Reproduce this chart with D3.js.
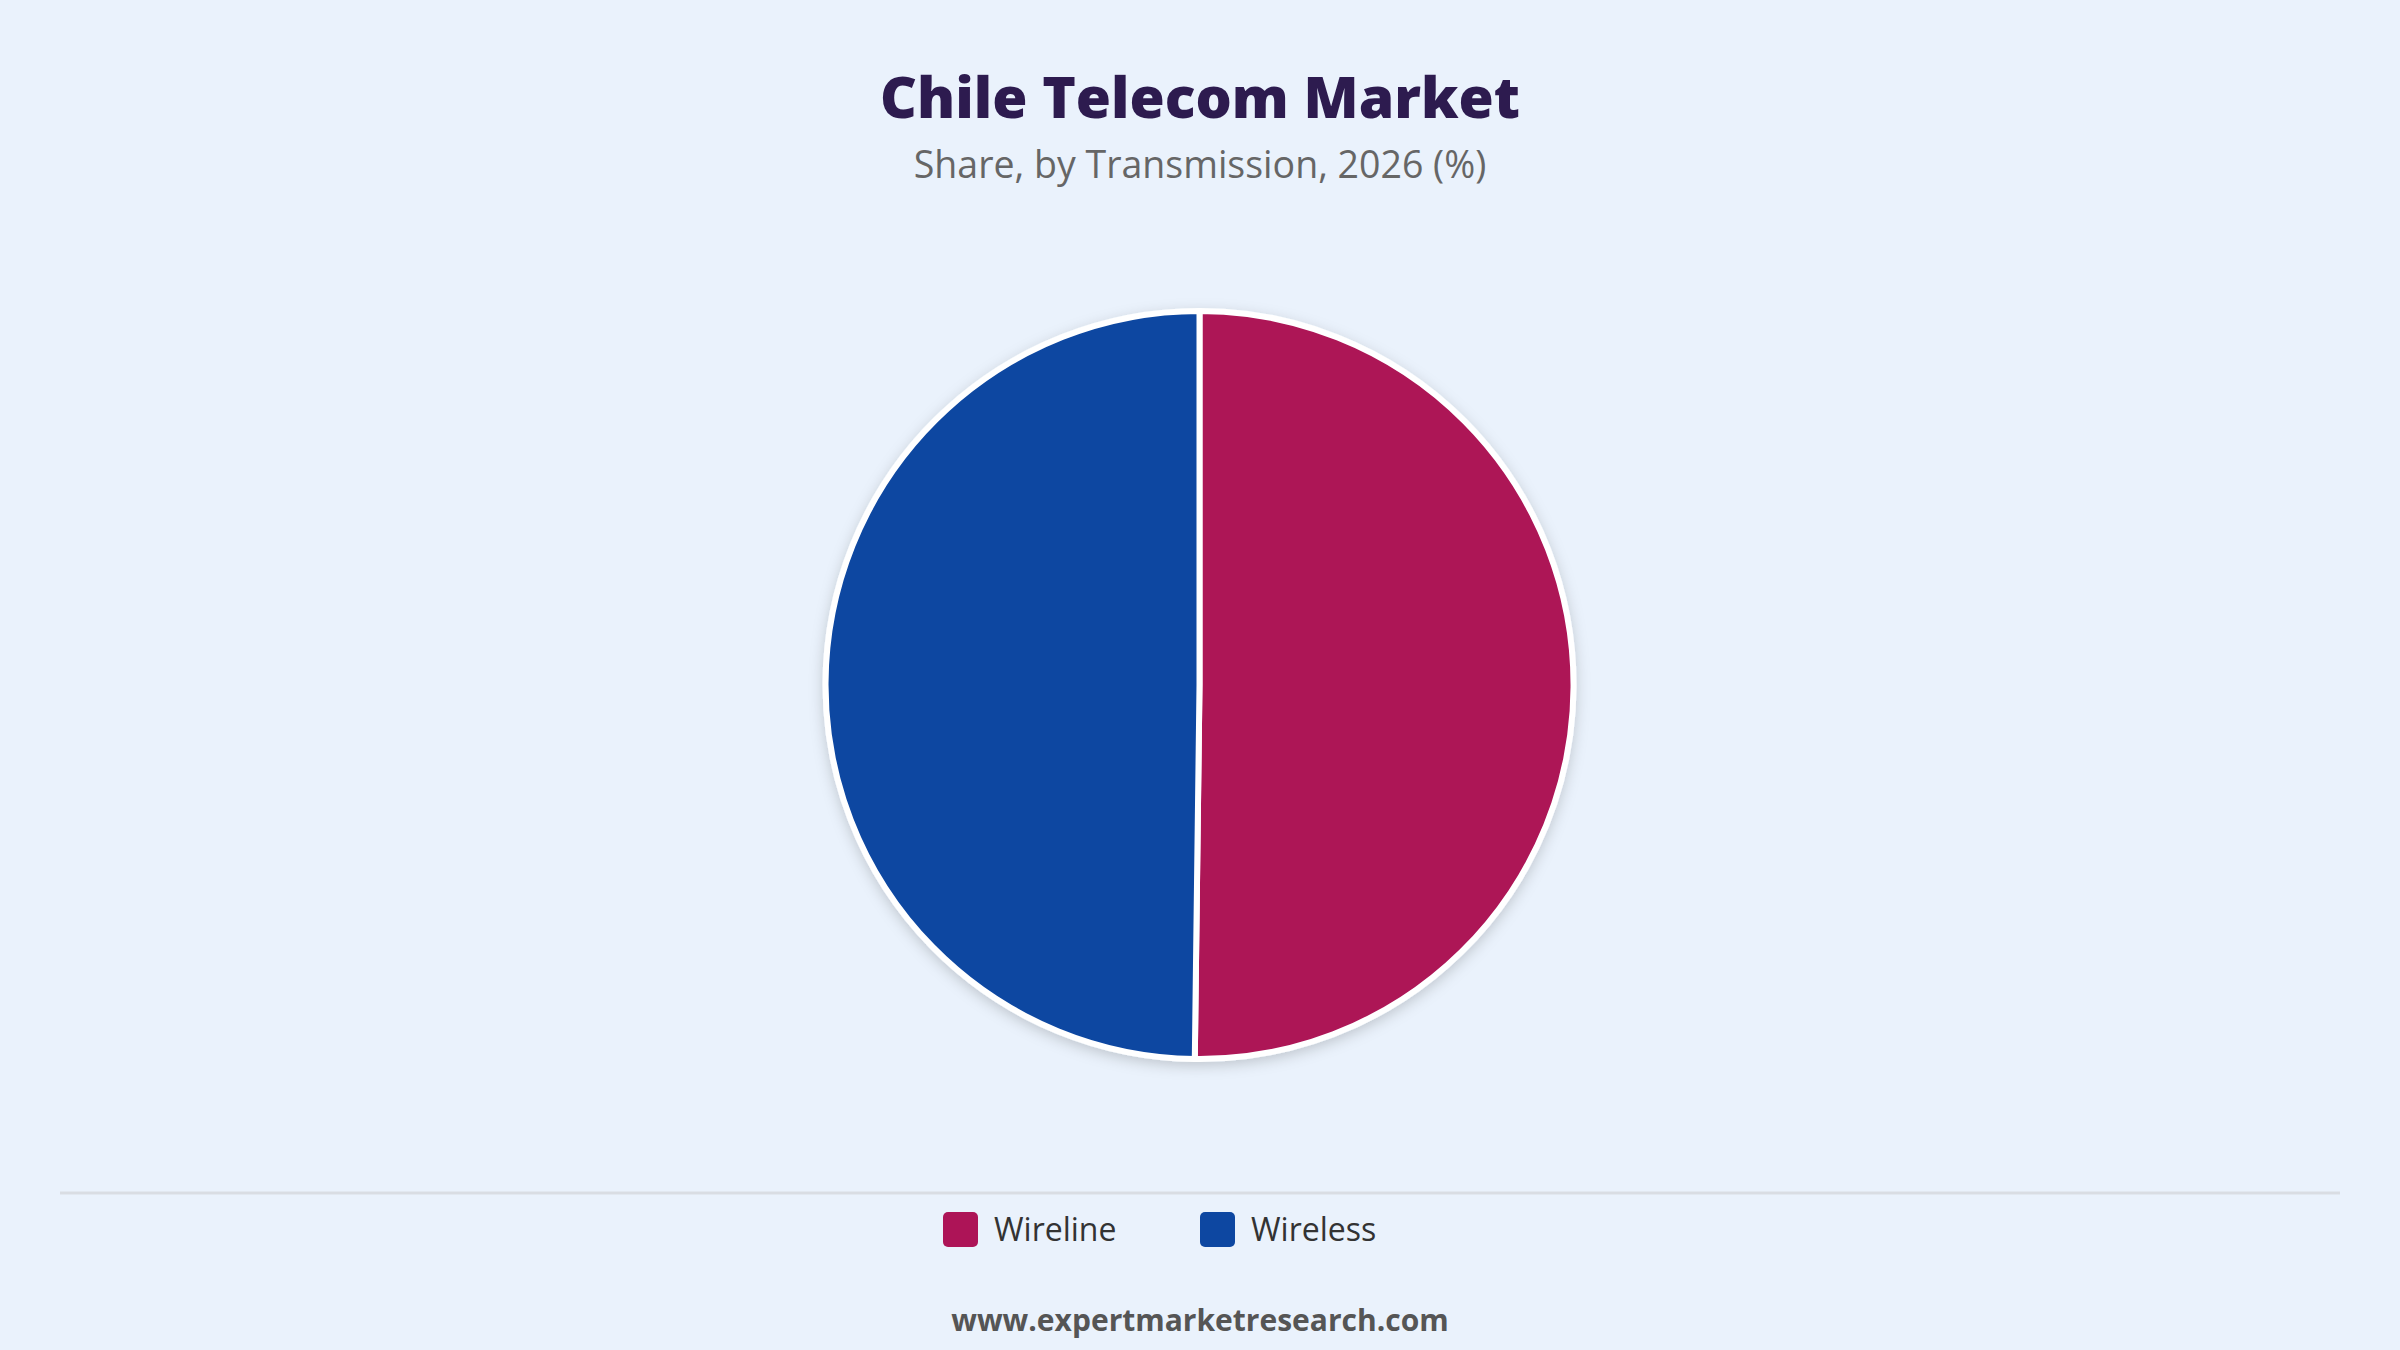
<!DOCTYPE html>
<html lang="en">
<head>
  <meta charset="UTF-8">
  <title>Chile Telecom Market</title>
  <script src="https://d3js.org/d3.v7.min.js"></script>
  <style>
    html, body { margin: 0; padding: 0; background: #eaf2fc; }
    svg { display: block; }
  </style>
</head>
<body>
<div class="main"></div>
<script>

  // chart data
  var categories = ["Wireline", "Wireless"];
  var shares = [50.2, 49.8];
  var colors = ["#ad1457", "#0d47a1"];

  var titleText = "Chile Telecom Market";
  var subtitleText = "Share, by Transmission, 2026 (%)";
  var footerText = "www.expertmarketresearch.com";

  let width = 2400;
  let height = 1350;
  let cx = 1199.5, cy = 685, radius = 374;

  let svg = d3.select(".main")
          .append("svg")
          .attr("width", width)
          .attr("height", height);

  svg.append("rect").attr("width", width).attr("height", height).style("fill", "#eaf2fc");

  // soft shadow under the pie
  let defs = svg.append("defs");
  let filter = defs.append("filter").attr("id", "shadow")
          .attr("x", "-20%").attr("y", "-20%").attr("width", "140%").attr("height", "140%");
  filter.append("feDropShadow")
          .attr("dx", 0).attr("dy", 4)
          .attr("stdDeviation", 7)
          .attr("flood-color", "#000")
          .attr("flood-opacity", 0.18);

  svg.append("text")
          .attr("x", width / 2).attr("y", 118)
          .attr("text-anchor", "middle")
          .style("font-family", "'Open Sans', sans-serif")
          .style("font-weight", "800")
          .style("font-size", "57px")
          .style("fill", "#2d1b4f")
          .text(titleText);

  svg.append("text")
          .attr("x", width / 2).attr("y", 178)
          .attr("text-anchor", "middle")
          .style("font-family", "'Open Sans', sans-serif")
          .style("font-size", "37.5px")
          .style("fill", "#666")
          .text(subtitleText);

  let pieData = categories.map((c, i) => ({ key: c, value: shares[i], color: colors[i] }));

  let pie = d3.pie().sort(null).value(d => d.value);
  let arc = d3.arc().innerRadius(0).outerRadius(radius);

  let pieG = svg.append("g")
          .attr("transform", `translate(${cx}, ${cy})`)
          .attr("filter", "url(#shadow)");

  pieG.selectAll("path")
          .data(pie(pieData))
          .join("path")
          .attr("d", arc)
          .style("fill", d => d.data.color)
          .style("stroke", "#fff")
          .style("stroke-width", 6)
          .style("stroke-linejoin", "round");

  // separator line above legend
  svg.append("line")
          .attr("x1", 60).attr("x2", 2340)
          .attr("y1", 1193).attr("y2", 1193)
          .style("stroke", "#d9dde3")
          .style("stroke-width", 3);

  // legend
  let legendX = d3.scalePoint().domain(categories).range([943, 1200]);
  let legend = svg.append("g").selectAll("g")
          .data(pieData)
          .join("g")
          .attr("transform", d => `translate(${legendX(d.key)}, 1212)`);

  legend.append("rect")
          .attr("width", 35).attr("height", 35)
          .attr("rx", 5).attr("ry", 5)
          .style("fill", d => d.color);

  legend.append("text")
          .attr("x", 51).attr("y", 29)
          .style("font-family", "'Open Sans', sans-serif")
          .style("font-size", "32px")
          .style("fill", "#333")
          .text(d => d.key);

  svg.append("text")
          .attr("x", width / 2).attr("y", 1331)
          .attr("text-anchor", "middle")
          .style("font-family", "'Open Sans', sans-serif")
          .style("font-weight", "700")
          .style("font-size", "30px")
          .style("fill", "#555")
          .text(footerText);

</script>
</body>
</html>
